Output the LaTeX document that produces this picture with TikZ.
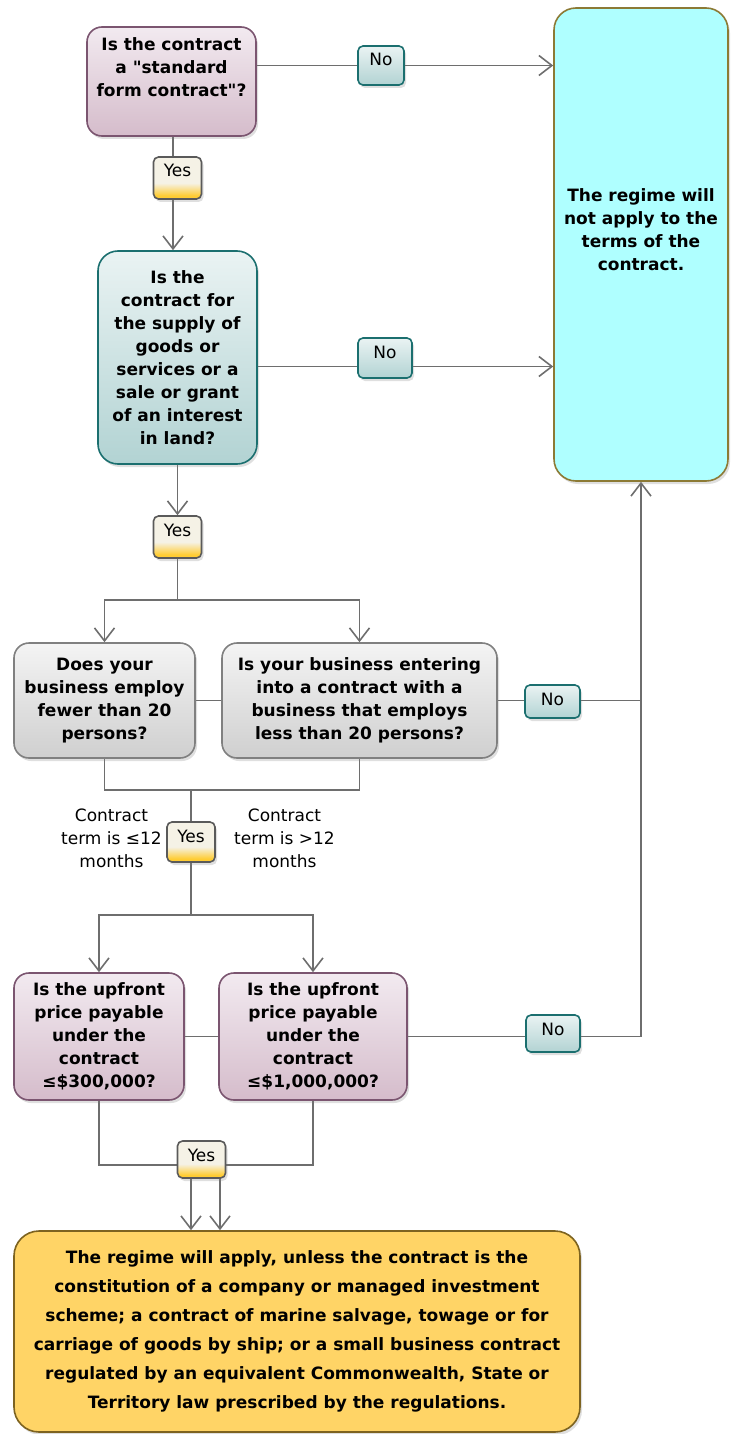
\documentclass[tikz,border=0pt]{standalone}
\usepackage{fontspec}
\setmainfont{DejaVu Sans}[Ligatures=TeXOff]
\usepackage{tikz}
\usetikzlibrary{arrows.meta,shadows,backgrounds}
\usepackage{xcolor}

\definecolor{linegray}{HTML}{6E6E6E}
\definecolor{pinktop}{HTML}{F2EAF0}
\definecolor{pinkbot}{HTML}{D5BCCB}
\definecolor{pinkedge}{HTML}{7B5570}
\definecolor{tealtop}{HTML}{EAF3F3}
\definecolor{tealbot}{HTML}{B2D3D3}
\definecolor{tealedge}{HTML}{1B6F6F}
\definecolor{graytop}{HTML}{F4F4F4}
\definecolor{graybot}{HTML}{CFCFCF}
\definecolor{grayedge}{HTML}{808080}
\definecolor{yestop}{HTML}{F5F2E6}
\definecolor{yesbot}{HTML}{FFCC33}
\definecolor{yesedge}{HTML}{5A5A5A}
\definecolor{cyanfill}{HTML}{AFFFFF}
\definecolor{cyanedge}{HTML}{8C7A35}
\definecolor{goldfill}{HTML}{FFD466}
\definecolor{goldedge}{HTML}{7D6320}

\pgfdeclareverticalshading{yesshade}{100bp}{color(0bp)=(yesbot); color(29bp)=(yesbot);
  color(44bp)=(yestop); color(100bp)=(yestop)}

\begin{document}
\begin{tikzpicture}[x=1pt, y=-1pt, >={Straight Barb[length=13pt,width=20pt]},
  line/.style={draw=linegray, line width=1.6pt},
  shade/.style={drop shadow={opacity=0.25, shadow xshift=2pt, shadow yshift=-3pt}},
  box/.style={shade, rounded corners=15pt, line width=1.6pt, align=center,
    font=\fontsize{17}{23}\selectfont\bfseries},
  pinkbox/.style={box, draw=pinkedge, top color=pinktop, bottom color=pinkbot},
  tealbox/.style={box, draw=tealedge, top color=tealtop, bottom color=tealbot, rounded corners=20pt},
  graybox/.style={box, draw=grayedge, top color=graytop, bottom color=graybot},
  tag/.style={shade, rounded corners=5pt, line width=1.6pt, minimum width=48pt,
    inner ysep=5pt, text height=15pt, text depth=14pt, font=\fontsize{17}{23}\selectfont},
  notag/.style={tag, draw=tealedge, top color=tealtop, bottom color=tealbot},
  yestag/.style={tag, draw=yesedge, shading=yesshade, text depth=17pt},
  note/.style={align=center, font=\fontsize{17}{23}\selectfont}]
  \useasboundingbox (0,0) rectangle (733,1434);

  % Define nodes
  \node[pinkbox, minimum width=169pt, minimum height=109pt] (A) at (171.5,81.5)
    {Is the contract\\ a "standard\\ form contract"?\\ \strut};
  \node[box, draw=cyanedge, fill=cyanfill, rounded corners=22pt,
    minimum width=174pt, minimum height=473pt] (R) at (641,244.5)
    {The regime will\\ not apply to the\\ terms of the\\ contract.\\ \strut};
  \node[tealbox, minimum width=159pt, minimum height=213pt] (B) at (177.5,357.5)
    {Is the\\ contract for\\ the supply of\\ goods or\\ services or a\\ sale or grant\\ of an interest\\ in land?};
  \node[graybox, minimum width=181pt, minimum height=115pt] (C1) at (104.5,700.5)
    {Does your\\ business employ\\ fewer than 20\\ persons?};
  \node[graybox, minimum width=275pt, minimum height=115pt] (C2) at (359.5,700.5)
    {Is your business entering\\ into a contract with a\\ business that employs\\ less than 20 persons?};
  \node[pinkbox, minimum width=170pt, minimum height=127pt] (E1) at (99,1036.5)
    {Is the upfront\\ price payable\\ under the\\ contract\\ ≤\$300,000?};
  \node[pinkbox, minimum width=188pt, minimum height=127pt] (E2) at (313,1036.5)
    {Is the upfront\\ price payable\\ under the\\ contract\\ ≤\$1,000,000?};
  \node[box, draw=goldedge, fill=goldfill, rounded corners=25pt,
    minimum width=566pt, minimum height=201pt, font=\fontsize{17}{29}\selectfont\bfseries] (F) at (297,1331.5)
    {The regime will apply, unless the contract is the\\
     constitution of a company or managed investment\\
     scheme; a contract of marine salvage, towage or for\\
     carriage of goods by ship; or a small business contract\\
     regulated by an equivalent Commonwealth, State or\\
     Territory law prescribed by the regulations.};

  \node[notag, minimum width=46pt] (no1) at (381,65.5) {No};
  \node[notag, minimum width=54pt, text depth=15pt] (no2) at (385,358) {No};
  \node[notag, minimum width=55pt, text depth=8pt] (no3) at (552.5,701.5) {No};
  \node[notag, minimum width=54pt, text depth=12pt] (no4) at (553,1033.5) {No};
  \node[yestag] (yes1) at (177.5,178) {Yes};
  \node[yestag] (yes2) at (177.5,537) {Yes};
  \node[yestag, text depth=15pt] (yes3) at (191,842) {Yes};
  \node[yestag, text depth=12pt] (yes4) at (201.5,1159.5) {Yes};

  \node[note] (short) at (111.5,838) {Contract\\ term is ≤12\\ months};
  \node[note] (long) at (284.5,838) {Contract\\ term is >12\\ months};

  \coordinate (split1) at (177.5,600);
  \coordinate (join1) at (191,790);
  \coordinate (split2) at (191,915);
  \coordinate (join2) at (201.5,1165);

  % Draw arrows
  \begin{pgfonlayer}{background}
    \draw[line,->] (A.east |- no1) -- (no1 -| R.west);
    \draw[line,->] ([xshift=1.5pt]A.south) -- ([xshift=1.5pt]A.south |- B.north);
    \draw[line,->] ([yshift=-9pt]B.east) -- ([yshift=-9pt]B.east -| R.west);
    \draw[line,->] (B.south) -- (yes2.north);
    \draw[line] (yes2.south) -- (split1);
    \draw[line,->] (split1) -| (C1.north);
    \draw[line,->] (split1) -| (C2.north);
    \draw[line] (C1) -- (C2);
    \draw[line] (C2.east) -- (C2.east -| R.south);
    \draw[line] (C1.south) |- (join1) -| (C2.south);
    \draw[line] (join1) -- (split2);
    \draw[line,->] (split2) -| (E1.north);
    \draw[line,->] (split2) -| (E2.north);
    \draw[line] (E1) -- (E2);
    \draw[line,->] (E2.east) -| (R.south);
    \draw[line] (E1.south) |- (join2) -| (E2.south);
    \draw[line,->] ([xshift=-10.5pt]yes4.south) -- ([xshift=-10.5pt]yes4.south |- F.north);
    \draw[line,->] ([xshift=18.5pt]yes4.south) -- ([xshift=18.5pt]yes4.south |- F.north);
  \end{pgfonlayer}
\end{tikzpicture}
\end{document}
